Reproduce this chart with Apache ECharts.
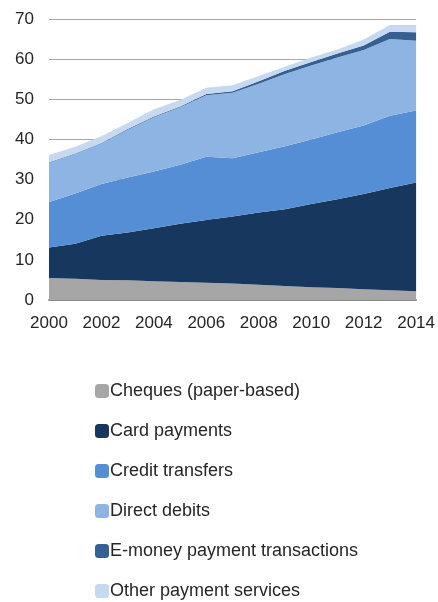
<!DOCTYPE html>
<html lang="en">
<head>
    <meta charset="utf-8">
    <title>Payment transactions</title>
    <style>
        html, body { margin: 0; padding: 0; background: #fff; }
    </style>
</head>
<body>
    <div id="main" style="width:438px;height:602px;"></div>
    <script src="https://cdn.jsdelivr.net/npm/echarts@6/dist/echarts.min.js"></script>
    <script type="text/javascript">

        var years = ['2000', '2001', '2002', '2003', '2004', '2005', '2006', '2007',
            '2008', '2009', '2010', '2011', '2012', '2013', '2014'];

        var cheques = [5.5, 5.3, 5.0, 4.9, 4.7, 4.5, 4.3, 4.1, 3.8, 3.5, 3.2, 3.0, 2.7, 2.4, 2.2];
        var cardPayments = [7.6, 8.7, 11.0, 11.9, 13.2, 14.5, 15.6, 16.7, 18.0, 19.1, 20.7, 22.1, 23.7, 25.5, 27.1];
        var creditTransfers = [11.3, 12.5, 12.9, 13.7, 14.1, 14.7, 15.8, 14.5, 15.0, 15.7, 16.1, 16.7, 17.1, 18.0, 17.9];
        var directDebits = [9.8, 9.9, 10.1, 11.9, 13.5, 14.3, 15.3, 16.3, 17.1, 18.0, 18.4, 18.6, 18.8, 19.1, 17.4];
        var eMoney = [0.1, 0.1, 0.1, 0.2, 0.2, 0.2, 0.3, 0.4, 0.6, 0.8, 0.9, 1.0, 1.1, 1.8, 2.1];
        var otherServices = [1.8, 1.7, 1.7, 1.5, 1.8, 1.6, 1.6, 1.5, 1.3, 1.0, 1.1, 1.0, 1.5, 1.7, 1.8];

        var names = ['Cheques (paper-based)', 'Card payments', 'Credit transfers',
            'Direct debits', 'E-money payment transactions', 'Other payment services'];
        var values = [cheques, cardPayments, creditTransfers, directDebits, eMoney, otherServices];
        var colors = ['#a6a6a6', '#17375e', '#558ed5', '#8eb4e3', '#366092', '#c6d9f1'];

        var myChart = echarts.init(document.getElementById('main'));

        var series = names.map(function (n, i) {
            return {
                name: n,
                type: 'line',
                stack: 'total',
                data: values[i],
                symbol: 'none',
                lineStyle: { width: 0 },
                areaStyle: { color: colors[i], opacity: 1 },
                itemStyle: { color: colors[i] },
                emphasis: { disabled: true }
            };
        });

        var option = {
            animation: false,
            textStyle: { fontFamily: 'Liberation Sans, Arial, sans-serif' },
            grid: {
                left: 49,
                right: 20,
                top: 19,
                bottom: 302
            },
            legend: {
                orient: 'vertical',
                left: 95,
                top: 381,
                height: 230,
                padding: 0,
                itemWidth: 14,
                itemHeight: 14,
                itemGap: 20,
                icon: 'roundRect',
                selectedMode: false,
                textStyle: {
                    color: '#262626',
                    fontSize: 18,
                    lineHeight: 20,
                    padding: [0, 0, 0, -4]
                },
                data: names
            },
            xAxis: {
                type: 'category',
                data: years,
                boundaryGap: false,
                axisLine: { show: true, lineStyle: { color: '#8c8c8c', width: 2 } },
                axisTick: { show: false },
                axisLabel: {
                    interval: 1,
                    color: '#262626',
                    fontSize: 17,
                    margin: 15
                },
                splitLine: { show: false }
            },
            yAxis: {
                type: 'value',
                min: 0,
                max: 70,
                interval: 10,
                axisLine: { show: false },
                axisTick: { show: false },
                axisLabel: {
                    color: '#262626',
                    fontSize: 17,
                    margin: 15
                },
                splitLine: { lineStyle: { color: '#a6a6a6', width: 1 } }
            },
            series: series
        };

        myChart.setOption(option);
    </script>
</body>
</html>
